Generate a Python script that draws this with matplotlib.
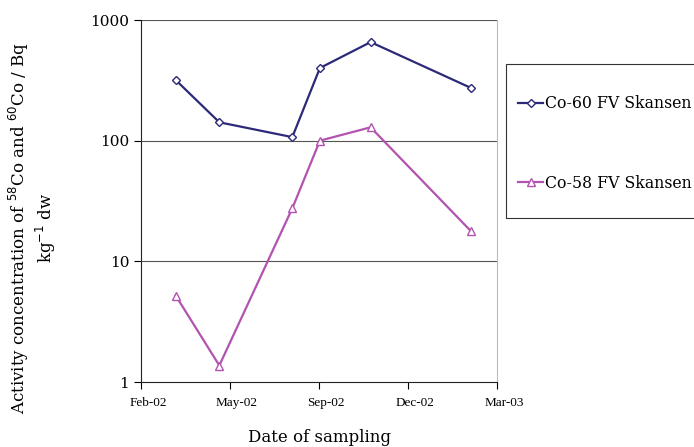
#!/usr/bin/env python3
import matplotlib
matplotlib.use("Agg")
import matplotlib.pyplot as plt
import matplotlib.dates as mdates
import matplotlib.transforms as mtrans
from matplotlib.patches import Rectangle
import datetime as dt

# sampling dates and activity concentrations (Bq/kg dw)
dates = [dt.date(2002, 3, 26), dt.date(2002, 5, 14), dt.date(2002, 8, 4),
         dt.date(2002, 9, 4), dt.date(2002, 10, 31), dt.date(2003, 2, 21)]
co60 = [318, 142, 107, 400, 656, 273]
co58 = [5.2, 1.37, 27.5, 100, 129, 17.7]

axis_start = dt.date(2002, 2, 15)
tick_dates = [axis_start + dt.timedelta(days=100 * i) for i in range(5)]

plt.rcParams["font.family"] = "DejaVu Serif"

fig = plt.figure(figsize=(6.94, 4.47), dpi=100)
ax = fig.add_axes([141 / 694, 1 - 382 / 447, (497 - 141) / 694, (382 - 20) / 447])

c60 = "#2c2a78"
c58 = "#b253b0"
ax.plot(dates, co60, color=c60, lw=1.6, marker="D", ms=4.5, mfc="white",
        mec=c60, mew=1.0, label="Co-60 FV Skansen")
ax.plot(dates, co58, color=c58, lw=1.6, marker="^", ms=6, mfc="white",
        mec=c58, mew=1.0, label="Co-58 FV Skansen")

ax.set_yscale("log")
ax.set_ylim(1, 1000)
ax.set_xlim(mdates.date2num(tick_dates[0]), mdates.date2num(tick_dates[-1]))
ax.set_xticks([mdates.date2num(d) for d in tick_dates])
ax.xaxis.set_major_formatter(mdates.DateFormatter("%b-%y"))
ax.set_yticks([1, 10, 100, 1000])
ax.set_yticklabels(["1", "10", "100", "1000"])
ax.yaxis.set_minor_locator(matplotlib.ticker.NullLocator())

for y in [10, 100, 1000]:
    ax.axhline(y, color="#555555", lw=0.8, zorder=0)

ax.spines["top"].set_visible(False)
ax.spines["right"].set_color("#bbbbbb")
ax.spines["left"].set_color("#222222")
ax.spines["bottom"].set_color("#222222")
ax.tick_params(axis="x", labelsize=9.5, length=5, direction="out", pad=6)
ax.tick_params(axis="y", labelsize=11, length=5, direction="out")
shift = mtrans.ScaledTranslation(7 / 100, 0, fig.dpi_scale_trans)
for lbl in ax.get_xticklabels():
    lbl.set_fontfamily("Liberation Serif")
    lbl.set_transform(lbl.get_transform() + shift)

ax.set_xlabel("Date of sampling", fontsize=12, labelpad=14)
fig.text(0.027, 0.49, r"Activity concentration of $^{58}$Co and $^{60}$Co / Bq",
         rotation=90, ha="center", va="center", fontsize=12)
fig.text(0.066, 0.49, r"kg$^{-1}$ dw", rotation=90, ha="center", va="center",
         fontsize=12)

# legend box runs past the right edge like in the original
fig.patches.append(Rectangle((506 / 694, 1 - 218 / 447), 0.5, (218 - 64) / 447,
                             transform=fig.transFigure, fill=False,
                             edgecolor="#333333", lw=0.8))
leg = fig.legend(loc="upper left", bbox_to_anchor=(518 / 694, 1 - 95 / 447),
                 frameon=False, fontsize=11.3, handlelength=1.6,
                 handletextpad=0.15, labelspacing=4.0, borderpad=0,
                 borderaxespad=0)

fig.savefig("out.png", dpi=100)
